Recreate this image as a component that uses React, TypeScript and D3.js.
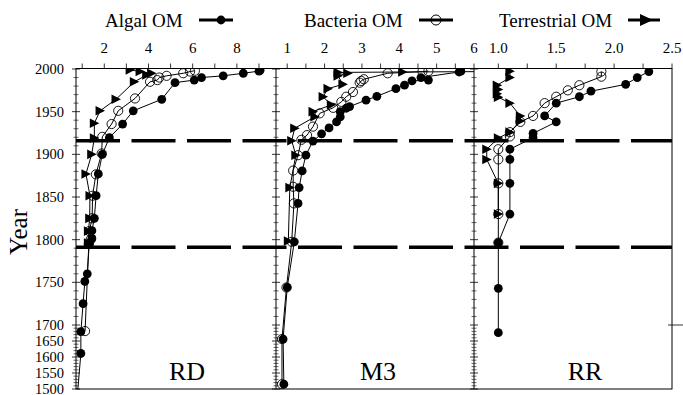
import React from 'react'
import * as d3 from 'd3'

// tick labels
const yearTicks = [1500, 1550, 1600, 1650, 1700, 1750, 1800, 1850, 1900, 1950, 2000]
const rdTicks = [2, 4, 6, 8]
const m3Ticks = [1, 2, 3, 4, 5, 6]
const rrTicks = [1.0, 1.5, 2.0, 2.5]
const dashYears = [1916, 1791]

// [year, value]
const rdAlgal: [number, number][] = [
    [1998.5, 9.05], [1997.5, 9.0], [1995, 8.29], [1992, 7.38], [1990, 6.4], [1987, 6.07], [1984, 5.2],
    [1964.5, 4.6], [1951, 3.31], [1935.5, 2.83], [1919.5, 2.23], [1900, 1.91], [1877, 1.73], [1851.5, 1.63],
    [1825, 1.55], [1810.5, 1.44], [1801.5, 1.44], [1795.5, 1.32], [1760, 1.23], [1751, 1.12], [1725, 1.04],
    [1679, 0.94], [1611, 0.94], [1480, 0.78]
]
const rdBacteria: [number, number][] = [
    [1998, 6.1], [1997, 5.88], [1995, 5.57], [1992, 4.82], [1990, 4.49], [1987, 4.4], [1985, 4.07],
    [1965.5, 3.39], [1951, 2.63], [1935.5, 2.33], [1920.5, 1.91], [1901, 1.88], [1876.5, 1.62], [1851.5, 1.47],
    [1825, 1.45], [1810, 1.32], [1800, 1.38], [1795, 1.3], [1681, 1.13]
]
const rdTerrestrial: [number, number][] = [
    [1999, 3.17], [1997, 3.62], [1995, 4.14], [1993, 3.92], [1985, 3.36], [1964.5, 2.53], [1951, 1.81],
    [1936.5, 1.55], [1919, 1.55], [1900, 1.43], [1877, 1.17], [1851.5, 1.35], [1825, 1.34], [1810, 1.28],
    [1796, 1.28]
]

const m3Algal: [number, number][] = [
    [1997.5, 5.65], [1996.5, 5.6], [1990, 4.58], [1987, 4.78], [1986, 4.34], [1981, 4.14], [1977, 3.91],
    [1968, 3.4], [1963.5, 3.11], [1956, 2.67], [1954, 2.58], [1950, 2.42], [1944, 2.42], [1938, 2.32],
    [1931, 2.12], [1924, 1.92], [1915.5, 1.69], [1899, 1.5], [1880.5, 1.4], [1861, 1.32], [1842.5, 1.29],
    [1797.5, 1.19], [1744, 1.0], [1656, 0.89], [1515, 0.91]
]
const m3Bacteria: [number, number][] = [
    [1997.5, 4.78], [1997, 4.62], [1995, 3.69], [1988, 3.05], [1986, 2.98], [1984, 2.94], [1973, 2.76],
    [1967.5, 2.58], [1961.5, 2.45], [1954.5, 2.23], [1948, 1.87], [1932.5, 1.69], [1922.5, 1.53], [1917, 1.38],
    [1899, 1.29], [1881, 1.16], [1862, 1.16], [1842.5, 1.18], [1797.5, 1.12], [1744, 0.98], [1656, 0.86],
    [1515, 0.86]
]
const m3Terrestrial: [number, number][] = [
    [1997, 6.5], [1996.5, 4.09], [1996, 2.36], [1995, 2.62], [1992, 2.36], [1982, 2.49], [1977, 2.09],
    [1967.5, 1.96], [1958, 2.18], [1950, 1.69], [1944, 1.74], [1930.5, 1.2], [1916, 1.12], [1899, 1.23],
    [1861, 1.07], [1798.5, 1.03]
]

const rrAlgal: [number, number][] = [
    [1997, 2.3], [1990, 2.2], [1982, 2.1], [1974, 1.8], [1967.5, 1.7], [1960, 1.5], [1945, 1.4], [1938, 1.5],
    [1924.5, 1.3], [1919.5, 1.3], [1906, 1.1], [1894, 1.1], [1866, 1.1], [1830, 1.1], [1796.5, 1.0],
    [1743, 1.0], [1676, 1.0]
]
const rrBacteria: [number, number][] = [
    [1997, 1.89], [1991, 1.89], [1981, 1.7], [1975, 1.6], [1967.5, 1.5], [1960, 1.4], [1945, 1.3],
    [1938, 1.19], [1926, 1.1], [1921, 1.1], [1906, 1.0], [1894, 1.0], [1866, 1.0], [1830, 1.0], [1796.5, 1.0]
]
const rrTerrestrial: [number, number][] = [
    [1997.5, 1.1], [1990, 1.1], [1981, 0.99], [1976, 1.0], [1971, 0.99], [1967, 1.0], [1960, 1.1],
    [1945, 1.19], [1939, 1.19], [1926, 1.1], [1919, 1.0], [1906, 0.9], [1894, 0.9], [1866, 1.0], [1830, 1.0]
]

const W = 683
const H = 395
const TOP = 68.5
const BOTTOM = 389
const FONT = '"Liberation Serif", "Times New Roman", serif'

const y = d3.scaleLinear().domain([1500, 1700, 2000]).range([389, 325, 69])

const panels = [
    { name: 'RD', x0: 76, x1: 276, domain: [0.72, 9.77], ticks: rdTicks, minor: 1, fmt: d3.format('d'),
      algal: rdAlgal, bacteria: rdBacteria, terr: rdTerrestrial, labelX: 187 },
    { name: 'M3', x0: 276, x1: 474, domain: [0.7, 6.0], ticks: m3Ticks, minor: 0.5, fmt: d3.format('d'),
      algal: m3Algal, bacteria: m3Bacteria, terr: m3Terrestrial, labelX: 378 },
    { name: 'RR', x0: 474, x1: 672, domain: [0.79, 2.5], ticks: rrTicks, minor: 0.25, fmt: d3.format('.1f'),
      algal: rrAlgal, bacteria: rrBacteria, terr: rrTerrestrial, labelX: 585 },
]

const triPath = 'M-4.5,-4.8L5,0L-4.5,4.8Z'

function Marker({ kind, x, y }: { kind: string; x: number; y: number }) {
    if (kind === 'algal') return <circle cx={x} cy={y} r={4.4} fill="#000" />
    if (kind === 'bacteria') return <circle cx={x} cy={y} r={4.6} fill="none" stroke="#000" strokeWidth={0.9} />
    return <path d={triPath} transform={`translate(${x},${y})`} fill="#000" />
}

function Panel({ p }: { p: typeof panels[0] }) {
    const x = d3.scaleLinear().domain(p.domain).range([p.x0, p.x1])
    const line = d3.line<[number, number]>().x(d => x(d[1])).y(d => y(d[0]))
    const minorTicks = d3.range(Math.ceil(p.domain[0] / p.minor) * p.minor, p.domain[1] + 1e-9, p.minor)
    const clipId = `clip-${p.name}`
    const series: [string, [number, number][]][] = [['bacteria', p.bacteria], ['terr', p.terr], ['algal', p.algal]]
    return (
        <g>
            <defs>
                <clipPath id={clipId}>
                    <rect x={p.x0} y={TOP} width={p.x1 - p.x0} height={BOTTOM - TOP} />
                </clipPath>
            </defs>
            {/* top ticks */}
            {minorTicks.map((t, i) => (
                <line key={'m' + i} x1={x(t)} x2={x(t)} y1={TOP} y2={TOP - 5} stroke="#000" strokeWidth={0.8} />
            ))}
            {p.ticks.map((t, i) => (
                <text key={'t' + i} x={x(t)} y={53} textAnchor="middle" fontSize={15} fontFamily={FONT}>{p.fmt(t)}</text>
            ))}
            <g clipPath={`url(#${clipId})`}>
                {series.map(([kind, data]) => (
                    <g key={kind}>
                        <path d={line(data) || ''} fill="none" stroke="#000" strokeWidth={1} />
                        {data.map((d, i) => <Marker key={i} kind={kind} x={x(d[1])} y={y(d[0])} />)}
                    </g>
                ))}
            </g>
            <text x={p.labelX} y={380} textAnchor="middle" fontSize={26} fontFamily={FONT}>{p.name}</text>
        </g>
    )
}

export default function App() {
    const minorYears = d3.range(1500, 2001, 10).filter(v => v % 50 !== 0)
    const edges = [76, 276, 474]
    return (
        <svg width={W} height={H} viewBox={`0 0 ${W} ${H}`}
            style={{ position: 'absolute', left: 0, top: 0, background: '#fff' }}>
            <rect x={0} y={0} width={W} height={H} fill="#fff" />
            {/* legend */}
            <g fontFamily={FONT} fontSize={19}>
                <text x={105} y={27}>Algal OM</text>
                <line x1={199} x2={233} y1={20} y2={20} stroke="#000" strokeWidth={3} />
                <Marker kind="algal" x={221} y={20} />
                <text x={304} y={27}>Bacteria OM</text>
                <line x1={419} x2={453} y1={20} y2={20} stroke="#000" strokeWidth={3} />
                <circle cx={436} cy={20} r={5} fill="none" stroke="#000" strokeWidth={1} />
                <text x={499} y={27}>Terrestrial OM</text>
                <line x1={628} x2={660} y1={20} y2={20} stroke="#000" strokeWidth={3} />
                <path d="M-6,-6L7,0L-6,6Z" transform="translate(646,20)" fill="#000" />
            </g>

            {/* frame */}
            <rect x={76} y={TOP} width={672 - 76} height={BOTTOM - TOP} fill="none" stroke="#000" strokeWidth={1} />
            {edges.slice(1).map(e => <line key={e} x1={e} x2={e} y1={TOP} y2={BOTTOM} stroke="#000" strokeWidth={1} />)}

            {/* y ticks on panel edges */}
            {edges.map(e => (
                <g key={e}>
                    {yearTicks.map(t => <line key={t} x1={e - 4} x2={e + 4} y1={y(t)} y2={y(t)} stroke="#000" strokeWidth={0.8} />)}
                    {minorYears.map(t => <line key={t} x1={e - 2.5} x2={e + 2.5} y1={y(t)} y2={y(t)} stroke="#000" strokeWidth={0.6} />)}
                </g>
            ))}
            <line x1={668} x2={683} y1={y(1700)} y2={y(1700)} stroke="#000" strokeWidth={0.8} />

            {/* y labels */}
            {yearTicks.map(t => (
                <text key={t} x={64} y={Math.min(y(t) + 5, 393.5)} textAnchor="end" fontSize={14.5}
                    fontFamily={FONT}>{t}</text>
            ))}
            <text transform="translate(27,232) rotate(-90)" textAnchor="middle" fontSize={25} fontFamily={FONT}>Year</text>

            {panels.map(p => <Panel key={p.name} p={p} />)}

            {/* dashed boundaries */}
            {dashYears.map(yr => (
                <line key={yr} x1={76} x2={672} y1={y(yr)} y2={y(yr)} stroke="#000" strokeWidth={3.5}
                    strokeDasharray="44 11.5" />
            ))}
        </svg>
    )
}
